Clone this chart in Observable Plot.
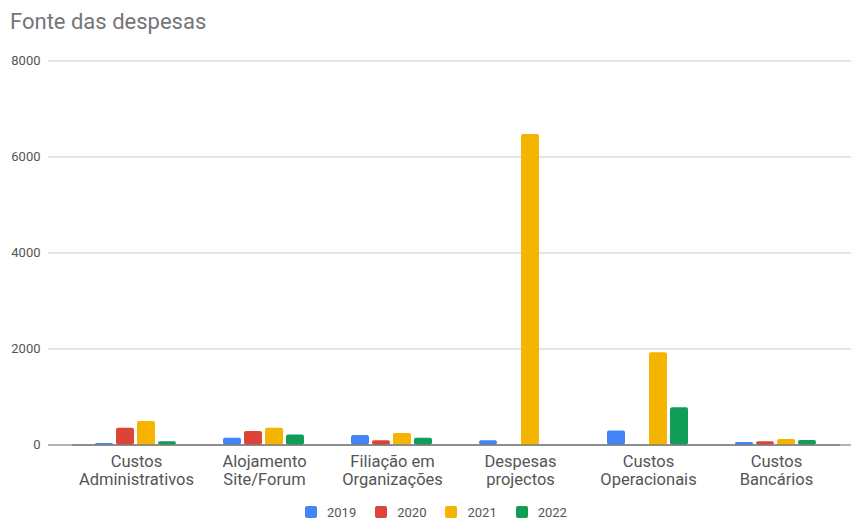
<!DOCTYPE html>
<html>
<head>
<meta charset="utf-8">
<script src="https://cdn.jsdelivr.net/npm/d3@7"></script>
<script src="https://cdn.jsdelivr.net/npm/@observablehq/plot@0.6"></script>
<style>
  body { margin: 0; background: #fff; font-family: Roboto, "Noto Sans", sans-serif; }
  #title { height: 45px; box-sizing: border-box; padding: 9px 0 0 10px; font-size: 22px; line-height: 26px; color: #757575; }
  #chart { position: relative; width: 851px; height: 450px; }
  #chart svg { position: absolute; left: 0; top: 0; }
  #legend { height: 25px; box-sizing: border-box; padding-top: 9px; display: flex; align-items: center; padding-left: 305px; font-size: 13px; color: #555; }
  .item { display: flex; align-items: center; margin-right: 19px; }
  .sw { width: 12px; height: 12px; border-radius: 2px; margin-right: 10px; }
</style>
</head>
<body>
<div id="title">Fonte das despesas</div>
<div id="chart"></div>
<div id="legend"></div>
<script>
// Expense categories and yearly amounts
const categories = [
  "Custos\nAdministrativos",
  "Alojamento\nSite/Forum",
  "Filiação em\nOrganizações",
  "Despesas\nprojectos",
  "Custos\nOperacionais",
  "Custos\nBancários"
];
const years = ["2019", "2020", "2021", "2022"];
const values2019 = [30, 140, 200, 90, 290, 50];
const values2020 = [350, 280, 90, null, null, 70];
const values2021 = [490, 350, 240, 6470, 1920, 115];
const values2022 = [70, 210, 140, null, 775, 95];
const yTicks = [0, 2000, 4000, 6000, 8000];
const colors = ["#4285F4", "#DB4437", "#F4B400", "#0F9D58"];

const series = [values2019, values2020, values2021, values2022];
const rows = [];
categories.forEach((c, i) => {
  years.forEach((y, j) => {
    const v = series[j][i];
    if (v != null) rows.push({category: c, year: y, value: v});
  });
});

const W = 851, H = 450, mTop = 15.5, mBottom = 50.5;
const font = {fontFamily: "Roboto, sans-serif", background: "transparent"};

// Background layer: full-width gridlines, baseline and value labels
const grid = Plot.plot({
  width: W, height: H,
  marginTop: mTop, marginBottom: mBottom, marginLeft: 48, marginRight: 0,
  style: font,
  x: {axis: null},
  y: {domain: [0, 8000], axis: null},
  marks: [
    Plot.ruleY(yTicks.filter(d => d > 0), {stroke: "#cccccc", strokeWidth: 1}),
    Plot.ruleY([0], {stroke: "#666", strokeWidth: 1}),
    Plot.text(yTicks, {y: d => d, text: d => String(d), frameAnchor: "left", textAnchor: "end", dx: -8, fontSize: 13, fill: "#555"})
  ]
});

// Foreground layer: grouped bars faceted by category
const bars = Plot.plot({
  width: W, height: H,
  marginTop: mTop, marginBottom: mBottom, marginLeft: 69, marginRight: 9,
  style: font,
  fx: {domain: categories, padding: 0, axis: null},
  x: {domain: years, paddingInner: 0.12, paddingOuter: 1.04, axis: null},
  y: {domain: [0, 8000], axis: null},
  color: {domain: years, range: colors},
  marks: [
    Plot.barY(rows, {fx: "category", x: "year", y: "value", fill: "year", rx: 2}),
    Plot.ruleY([0], {stroke: "#666", strokeWidth: 1}),
    Plot.axisFx({anchor: "bottom", tickSize: 0, tickPadding: 9.5, fontSize: 16.5, fill: "#555", label: null, lineHeight: 1.07})
  ]
});

const holder = document.getElementById("chart");
holder.appendChild(grid);
holder.appendChild(bars);

const legend = document.getElementById("legend");
years.forEach((y, j) => {
  const item = document.createElement("div");
  item.className = "item";
  const sw = document.createElement("div");
  sw.className = "sw";
  sw.style.background = colors[j];
  const label = document.createElement("span");
  label.textContent = y;
  item.appendChild(sw);
  item.appendChild(label);
  legend.appendChild(item);
});
</script>
</body>
</html>
